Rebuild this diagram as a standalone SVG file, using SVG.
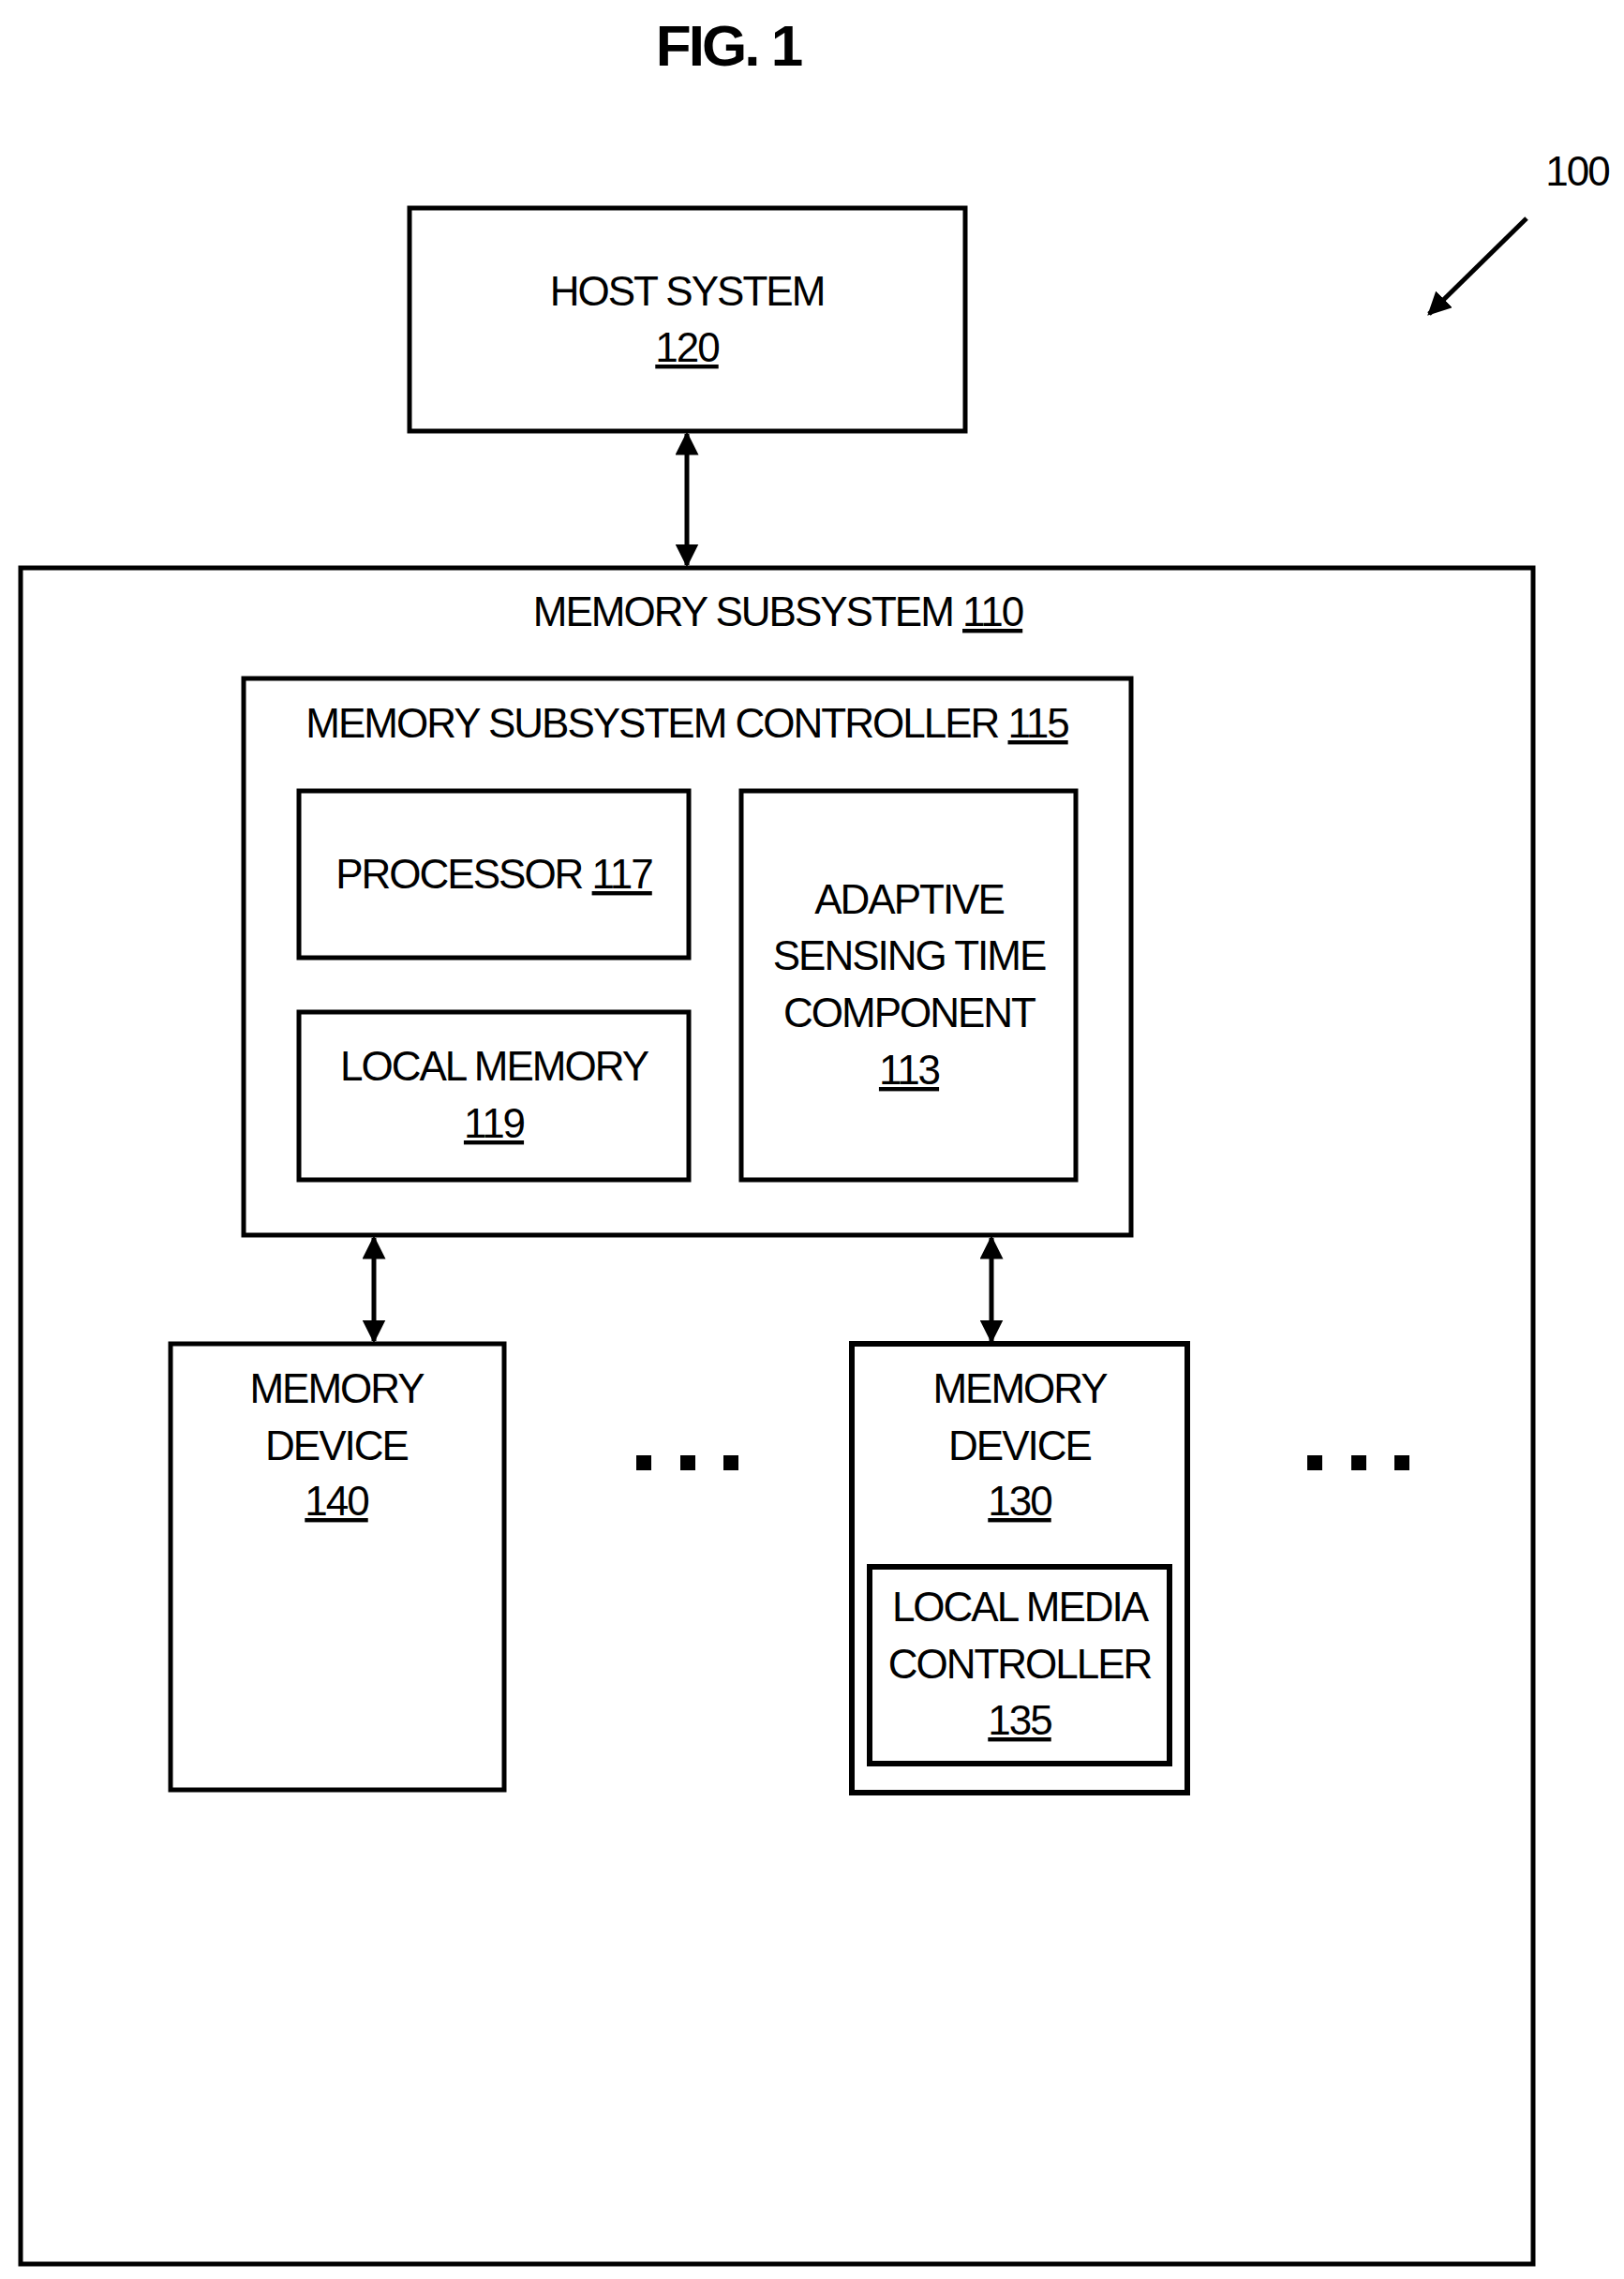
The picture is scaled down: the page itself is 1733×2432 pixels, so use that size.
<svg xmlns="http://www.w3.org/2000/svg" width="1733" height="2432" viewBox="0 0 1733 2432">
<defs>
<style>
rect{fill:none;stroke:#000;stroke-width:5}
text{font-family:"Liberation Sans",Arial,sans-serif;font-size:44px;letter-spacing:-2px;text-anchor:middle;fill:#000}
.u{text-decoration:underline}
line{stroke:#000;stroke-width:5}
</style>
<marker id="a" viewBox="0 0 10 10" refX="9" refY="5" markerWidth="5" markerHeight="5" orient="auto-start-reverse"><path d="M0,0L10,5L0,10z" fill="#000"/></marker>
</defs>
<rect width="1733" height="2432" fill="#fff" style="fill:#fff;stroke:none"/>
<text x="777" y="70" style="font-weight:bold;font-size:62px;letter-spacing:-3px">FIG. 1</text>
<g id="label100"><text x="1683" y="198" style="font-size:44px">100</text></g>
<g id="host"><rect x="437" y="222" width="593" height="238"/><text x="733" y="326">HOST SYSTEM</text><text x="733" y="386" class="u">120</text></g>
<g id="subsystem"><rect x="22" y="606" width="1614" height="1810"/><text x="830" y="668">MEMORY SUBSYSTEM <tspan class="u">110</tspan></text></g>
<g id="controller"><rect x="260" y="724" width="947" height="594"/><text x="733" y="787">MEMORY SUBSYSTEM CONTROLLER <tspan class="u">115</tspan></text></g>
<g id="processor"><rect x="319" y="844" width="416" height="178"/><text x="527" y="948">PROCESSOR <tspan class="u">117</tspan></text></g>
<g id="localmem"><rect x="319" y="1080" width="416" height="179"/><text x="527" y="1153">LOCAL MEMORY</text><text x="527" y="1214" class="u">119</text></g>
<g id="adaptive"><rect x="791" y="844" width="357" height="415"/><text x="970" y="975">ADAPTIVE</text><text x="970" y="1035">SENSING TIME</text><text x="970" y="1096">COMPONENT</text><text x="970" y="1157" class="u">113</text></g>
<g id="dev140"><rect x="182" y="1434" width="356" height="476"/><text x="359" y="1497">MEMORY</text><text x="359" y="1558">DEVICE</text><text x="359" y="1617" class="u">140</text></g>
<g id="dev130"><rect x="909" y="1434" width="358" height="479" style="stroke-width:6"/><text x="1088" y="1497">MEMORY</text><text x="1088" y="1558">DEVICE</text><text x="1088" y="1617" class="u">130</text></g>
<g id="lmc"><rect x="928" y="1672" width="320" height="210" style="stroke-width:6"/><text x="1088" y="1730">LOCAL MEDIA</text><text x="1088" y="1791">CONTROLLER</text><text x="1088" y="1851" class="u">135</text></g>
<g id="dots"><rect x="679" y="1553" width="16" height="16" style="fill:#000;stroke:none"/><rect x="726" y="1553" width="16" height="16" style="fill:#000;stroke:none"/><rect x="772" y="1553" width="16" height="16" style="fill:#000;stroke:none"/><rect x="1395" y="1553" width="16" height="16" style="fill:#000;stroke:none"/><rect x="1442" y="1553" width="16" height="16" style="fill:#000;stroke:none"/><rect x="1488" y="1553" width="16" height="16" style="fill:#000;stroke:none"/></g>
<g id="connectors">
<line x1="733" y1="463" x2="733" y2="603" marker-start="url(#a)" marker-end="url(#a)"/>
<line x1="399" y1="1321" x2="399" y2="1431" marker-start="url(#a)" marker-end="url(#a)"/>
<line x1="1058" y1="1321" x2="1058" y2="1431" marker-start="url(#a)" marker-end="url(#a)"/>
<line x1="1629" y1="233" x2="1525" y2="335" marker-end="url(#a)"/>
</g>
</svg>
